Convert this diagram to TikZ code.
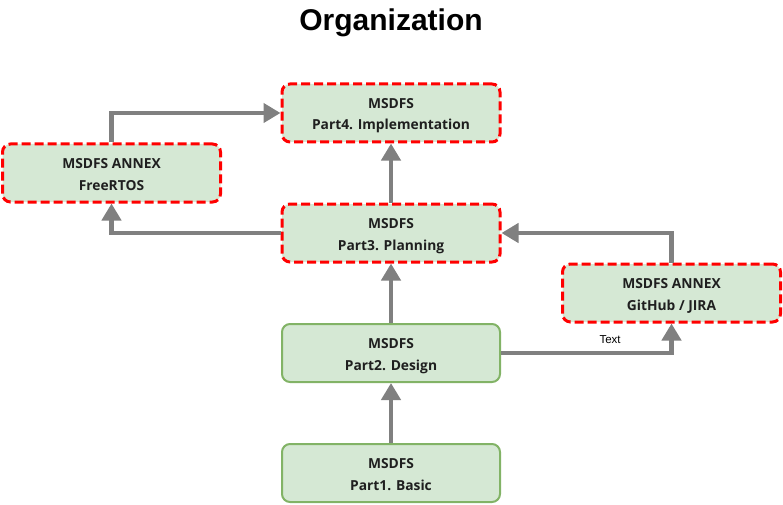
\documentclass[tikz,border=0pt]{standalone}
\usepackage{fontspec}
\setmainfont{Open Sans}
\newfontfamily\arialfont{Liberation Sans}
\usetikzlibrary{arrows.meta,positioning}

\definecolor{boxfill}{HTML}{D5E8D4}
\definecolor{boxgreen}{HTML}{82B366}
\definecolor{linkgray}{HTML}{808080}
\definecolor{boxtext}{HTML}{1F1F1F}

\begin{document}
\begin{tikzpicture}[x=1pt,y=-1pt,node distance=120pt,
        box/.style={rectangle,rounded corners=8pt,fill=boxfill,text=boxtext,
          minimum width=218pt,minimum height=58pt,inner sep=0pt,align=center,
          text height=38pt,text depth=4pt,font=\bfseries\fontsize{13.8}{21.5}\selectfont},
        basebox/.style={box,draw=boxgreen,line width=2pt},
        annexbox/.style={box,draw=red,line width=3pt,dash pattern=on 9pt off 4pt},
        link/.style={draw=linkgray,line width=4.5pt,-{Triangle[length=17pt,width=19pt]}}]

  \useasboundingbox (0,0) rectangle (783,505);

  \node[font=\arialfont\bfseries\fontsize{30}{33}\selectfont] (title) at (391,23) {Organization};

  \node[basebox] (p1) at (391,473) {MSDFS\\Part1. Basic};
  \node[basebox] (p2) [above of=p1] {MSDFS\\Part2. Design};
  \node[annexbox] (p3) [above of=p2] {MSDFS\\Part3. Planning};
  \node[annexbox] (p4) [above of=p3] {MSDFS\\Part4. Implementation};
  \node[annexbox,on grid] (rtos) [above left=60pt and 279.5pt of p3] {MSDFS ANNEX\\FreeRTOS};
  \node[annexbox,on grid] (git) [below right=60pt and 280.5pt of p3] {MSDFS ANNEX\\GitHub / JIRA};

  \path[link] (p1) -- (p2);
  \path[link] (p2) -- (p3);
  \path[link] (p3) -- (p4);
  \path[link] (p3.west) -| (rtos.south);
  \path[link] (rtos.north) |- (p4.west);
  \path[link] (p2.east) -| node[pos=0.32,above=4pt,text=black,
          font=\arialfont\fontsize{11.5}{13}\selectfont] {Text} (git.south);
  \path[link] (git.north) |- (p3.east);

\end{tikzpicture}
\end{document}
